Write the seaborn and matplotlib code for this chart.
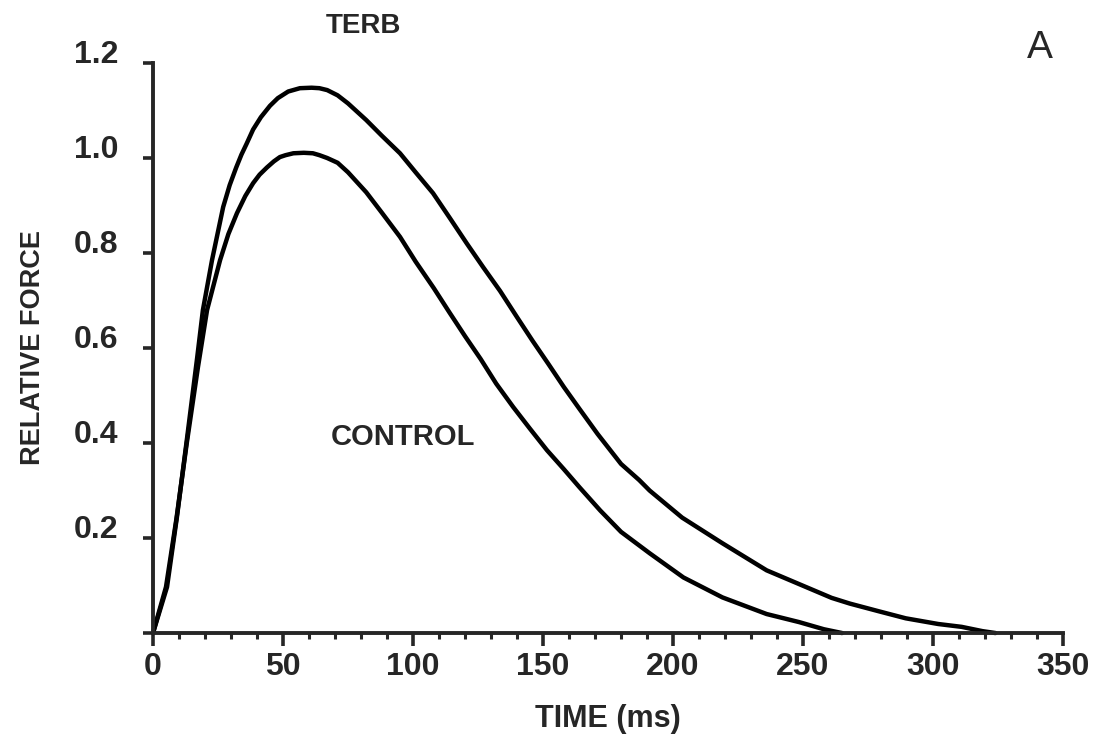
import numpy as np
import pandas as pd
import matplotlib
matplotlib.use("Agg")
import matplotlib.pyplot as plt
import seaborn as sns
from matplotlib.ticker import MultipleLocator

# values (time in ms, force relative to control peak)
control_t = [0, 5, 9, 13, 17.3, 20.8, 25.8, 29, 32.3, 35.5, 38.5, 41, 43.8, 46.5, 48.8, 51,
             54, 58, 61.5, 64, 67, 71, 75, 82, 88, 95, 101, 108, 114, 120, 126, 132,
             138.5, 145, 151.5, 158, 164, 172, 180, 191, 204, 219, 236, 248.5, 258, 265]
control_f = [0, 0.097, 0.24, 0.40, 0.56, 0.68, 0.785, 0.84, 0.884, 0.92, 0.947, 0.965, 0.98, 0.993, 1.002, 1.006,
             1.01, 1.011, 1.01, 1.006, 1.0, 0.99, 0.97, 0.928, 0.885, 0.834, 0.782, 0.726, 0.675, 0.625, 0.577, 0.525,
             0.476, 0.43, 0.385, 0.345, 0.307, 0.258, 0.213, 0.168, 0.117, 0.075, 0.04, 0.023, 0.008, 0.0]

terb_t = [0, 5.4, 9.2, 13, 17, 19.2, 22.7, 27, 29.5, 32, 34, 36, 38.5, 41.5, 45, 48, 52,
          56.5, 61, 64, 67, 71, 75, 82, 88, 95, 101, 107.7, 114, 120.7, 127, 133.5, 140,
          146, 152, 158, 164, 171, 180, 187, 191, 203.5, 219, 236, 248.5, 261, 268, 279,
          289.5, 302, 311, 319, 324]
terb_f = [0, 0.097, 0.244, 0.406, 0.58, 0.68, 0.785, 0.897, 0.943, 0.98, 1.007, 1.03, 1.06, 1.086, 1.11, 1.126, 1.14,
          1.147, 1.148, 1.147, 1.143, 1.132, 1.115, 1.08, 1.047, 1.01, 0.97, 0.926, 0.875, 0.82, 0.77, 0.72, 0.665,
          0.615, 0.567, 0.518, 0.472, 0.419, 0.356, 0.322, 0.30, 0.243, 0.189, 0.132, 0.103, 0.074, 0.062, 0.046,
          0.031, 0.019, 0.013, 0.004, 0.0]

x_ticks = [0, 50, 100, 150, 200, 250, 300, 350]
y_ticks = [0, 0.2, 0.4, 0.6, 0.8, 1.0, 1.2]

sns.set_style("ticks")
plt.rcParams["font.family"] = ["Liberation Sans", "DejaVu Sans"]
plt.rcParams["font.weight"] = "bold"

df_c = pd.DataFrame({"t": control_t, "f": control_f})
df_t = pd.DataFrame({"t": terb_t, "f": terb_f})

fig = plt.figure(figsize=(11.07, 7.52), dpi=100)
ax = fig.add_axes([0.1382, 0.1582, 0.8221, 0.758])

for d in (df_t, df_c):
    sns.lineplot(data=d, x="t", y="f", color="black", lw=3.2, ax=ax, clip_on=False,
                 solid_joinstyle="round", solid_capstyle="round")

ax.set_xlim(0, 350)
ax.set_ylim(0, 1.2)
sns.despine(ax=ax)
for side in ["left", "bottom"]:
    ax.spines[side].set_linewidth(2.8)

ax.set_xticks(x_ticks)
ax.xaxis.set_minor_locator(MultipleLocator(10))
ax.set_yticks(y_ticks)
ax.set_yticklabels([""] + ["%.1f" % v for v in y_ticks[1:]])

ax.tick_params(axis="x", which="major", length=9, width=2.6, pad=5, labelsize=23)
ax.tick_params(axis="x", which="minor", length=4.5, width=2.2)
ax.tick_params(axis="y", which="major", length=7, width=2.6, pad=18, labelsize=23)
for lab in ax.get_yticklabels():
    lab.set_verticalalignment("baseline")

ax.set_xlabel("TIME (ms)", fontsize=22, fontweight="bold")
ax.xaxis.set_label_coords(0.5, -0.125)
ax.set_ylabel("RELATIVE FORCE", fontsize=19.5, fontweight="bold")
ax.yaxis.set_label_coords(-0.118, 0.5)

ax.text(96, 0.413, "CONTROL", fontsize=21, fontweight="bold", ha="center", va="center")
ax.text(81, 1.278, "TERB", fontsize=20, fontweight="bold", ha="center", va="center", clip_on=False)
ax.text(341, 1.232, "A", fontsize=28, fontweight="normal", ha="center", va="center", clip_on=False)

fig.savefig("out.png", dpi=100)
